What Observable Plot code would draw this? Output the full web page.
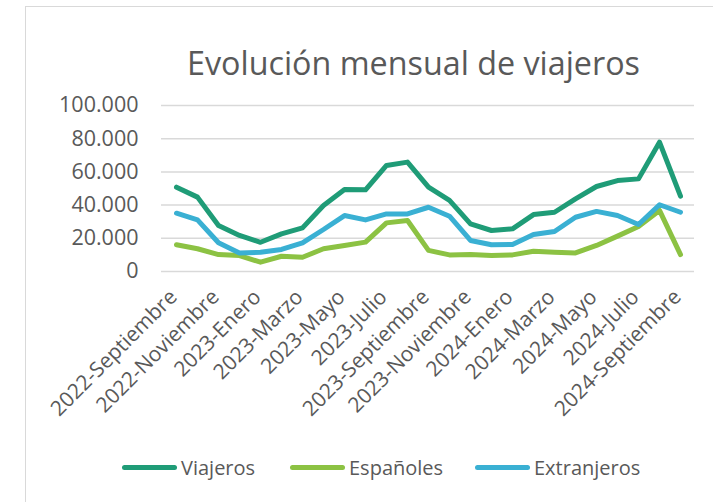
<!DOCTYPE html>
<html>
<head>
<meta charset="utf-8">
<script src="https://cdn.jsdelivr.net/npm/d3@7"></script>
<script src="https://cdn.jsdelivr.net/npm/@observablehq/plot@0.6"></script>
<style>
  html, body { margin: 0; padding: 0; background: #fff; overflow: hidden; }
  #wrap { position: relative; width: 713px; height: 502px; font-family: "Open Sans", sans-serif; color: #595959; }
  #frame { position: absolute; left: 25px; top: 6px; width: 720px; height: 520px; border: 1.5px solid #d9d9d9; box-sizing: border-box; }
  #title { position: absolute; left: 0; top: 0; width: 713px; height: 90px; }
  #chart { position: absolute; left: 0; top: 90px; }
  #legend { position: absolute; left: 0; top: 450px; width: 713px; height: 34px; }
  .item { position: absolute; top: 0; display: flex; align-items: center; height: 34px; font-size: 20px; }
  .sw { width: 55px; height: 5px; border-radius: 3px; margin-right: 4px; }
</style>
</head>
<body>
<div id="wrap">
  <div id="frame"></div>
  <svg id="title" width="713" height="90">
    <text x="187" y="75" font-family="Open Sans" font-size="33" fill="#595959" textLength="453" lengthAdjust="spacingAndGlyphs">Evolución mensual de viajeros</text>
  </svg>
  <div id="chart"></div>
  <div id="legend"></div>
</div>
<script>
const months = [
  "2022-Septiembre","2022-Octubre","2022-Noviembre","2022-Diciembre",
  "2023-Enero","2023-Febrero","2023-Marzo","2023-Abril","2023-Mayo","2023-Junio",
  "2023-Julio","2023-Agosto","2023-Septiembre","2023-Octubre","2023-Noviembre","2023-Diciembre",
  "2024-Enero","2024-Febrero","2024-Marzo","2024-Abril","2024-Mayo","2024-Junio",
  "2024-Julio","2024-Agosto","2024-Septiembre"
];
const viajeros = [50800, 44800, 27700, 21700, 17600, 22700, 26300, 39800, 49400, 49200, 63900, 65900, 50800, 42800, 28700, 24700, 25700, 34300, 35700, 43800, 51200, 54800, 55800, 77900, 45400];
const espanoles = [16100, 13700, 10200, 9600, 5600, 9200, 8600, 13700, 15700, 17700, 29300, 30700, 12700, 10000, 10200, 9600, 10000, 12200, 11600, 11200, 15700, 21300, 27100, 36800, 10200];
const extranjeros = [35100, 31100, 17300, 11200, 11600, 13300, 17300, 25300, 33700, 31100, 34700, 34700, 38700, 33300, 18700, 16100, 16300, 22300, 24100, 32700, 36200, 33700, 28300, 40200, 35700];
const seriesNames = ["Viajeros", "Españoles", "Extranjeros"];
const seriesColors = ["#1f9c77", "#8cc243", "#3ab0d3"];
const xTicks = ["2022-Septiembre","2022-Noviembre","2023-Enero","2023-Marzo","2023-Mayo","2023-Julio","2023-Septiembre","2023-Noviembre","2024-Enero","2024-Marzo","2024-Mayo","2024-Julio","2024-Septiembre"];
const yTicks = [0, 20000, 40000, 60000, 80000, 100000];

const seriesValues = [viajeros, espanoles, extranjeros];
const rows = [];
seriesNames.forEach((s, i) => months.forEach((m, j) => rows.push({serie: s, mes: m, valor: seriesValues[i][j]})));

const fmt = d3.formatLocale({decimal: ",", thousands: ".", grouping: [3], currency: ["", "€"]}).format(",");

const chart = Plot.plot({
  width: 713,
  height: 360,
  marginLeft: 161,
  marginRight: 19,
  marginTop: 15,
  marginBottom: 179,
  style: {fontFamily: "Open Sans", color: "#595959", background: "transparent"},
  x: {type: "point", domain: months, padding: 0.5, label: null},
  y: {domain: [0, 100000], label: null},
  color: {domain: seriesNames, range: seriesColors},
  marks: [
    Plot.gridY(yTicks, {stroke: "#d9d9d9", strokeOpacity: 1, strokeWidth: 1.5}),
    Plot.axisY(yTicks, {tickSize: 0, tickPadding: 23, fontSize: 21.5, tickFormat: fmt, fill: "#595959", label: null}),
    Plot.axisX(xTicks, {tickSize: 0, tickRotate: -45, fontSize: 21, fill: "#595959", tickPadding: 22, dx: -3, label: null}),
    Plot.line(rows, {x: "mes", y: "valor", z: "serie", stroke: "serie", strokeWidth: 5, strokeLinejoin: "round", strokeLinecap: "round"})
  ]
});
document.getElementById("chart").appendChild(chart);

const legend = document.getElementById("legend");
const lefts = [122, 290, 475];
seriesNames.forEach((s, i) => {
  const it = document.createElement("div");
  it.className = "item";
  it.style.left = lefts[i] + "px";
  const sw = document.createElement("div");
  sw.className = "sw";
  sw.style.background = seriesColors[i];
  const t = document.createElement("span");
  t.textContent = s;
  it.appendChild(sw);
  it.appendChild(t);
  legend.appendChild(it);
});
</script>
</body>
</html>
